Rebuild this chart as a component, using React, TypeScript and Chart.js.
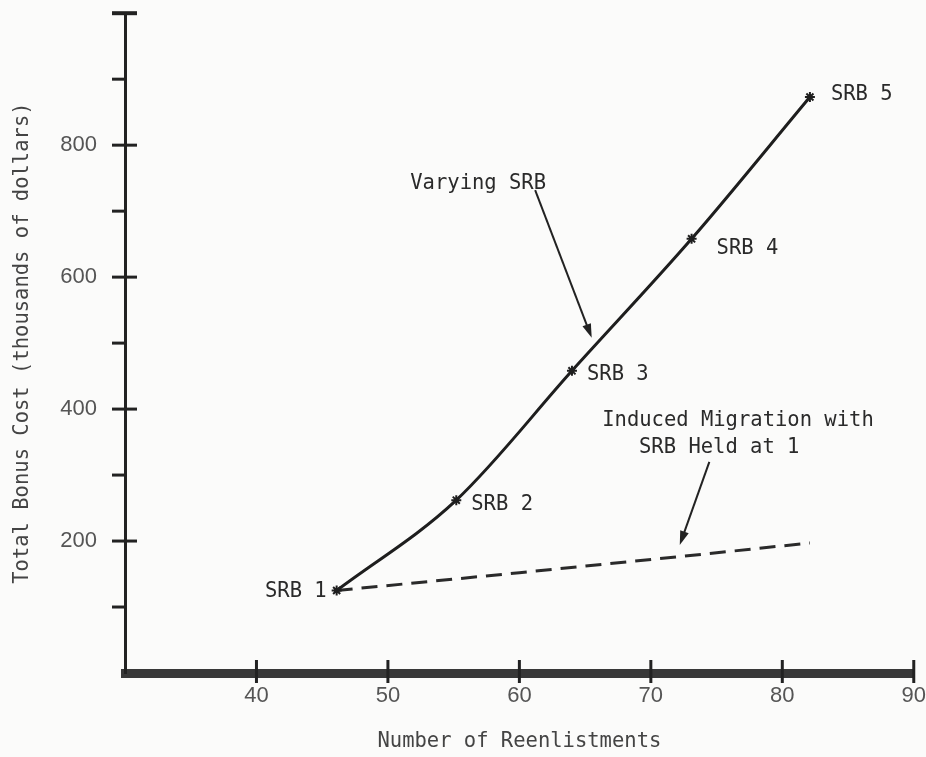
import { useEffect, useRef } from "react";
import { Chart, registerables } from "chart.js";

Chart.register(...registerables);

// ---- data ----
const reenlistments = [46.1, 55.2, 64, 73.1, 82.1];
const varyingSrbCost = [125, 262, 458, 658, 873];
const srbLabels = ["SRB 1", "SRB 2", "SRB 3", "SRB 4", "SRB 5"];

const heldReenlistments = [46.1, 60, 72, 82.1];
const heldSrbCost = [125, 152, 176, 197];

const xTickLabels = [40, 50, 60, 70, 80, 90];
const yTickLabels = [200, 400, 600, 800];

const xTitle = "Number of Reenlistments";
const yTitle = "Total Bonus Cost (thousands of dollars)";
const varyingText = "Varying SRB";
const heldText1 = "Induced Migration with";
const heldText2 = "SRB Held at 1";

// ---- annotation placement (data coords + pixel offsets) ----
const srbLabelOffsets: [number, number, CanvasTextAlign][] = [
  [-10, 1, "right"],
  [15, 5, "left"],
  [15, 4, "left"],
  [25, 10, "left"],
  [21, -2, "left"],
];
const varyingTextPos = { x: 51.7, y: 742 };
const varyingArrow = { x1: 61.2, y1: 732, x2: 65.5, y2: 508 };
const heldText1Pos = { x: 66.3, y: 383 };
const heldText2Pos = { x: 69.1, y: 342 };
const heldArrow = { x1: 74.45, y1: 320, x2: 72.2, y2: 194 };

const MONO = '"DejaVu Sans Mono", monospace';
const SANS = '"Liberation Sans", Arial, sans-serif';

function drawArrow(ctx: CanvasRenderingContext2D, x1: number, y1: number, x2: number, y2: number) {
  const ang = Math.atan2(y2 - y1, x2 - x1);
  const len = 14;
  const half = 4.5;
  ctx.beginPath();
  ctx.moveTo(x1, y1);
  ctx.lineTo(x2 - Math.cos(ang) * len * 0.8, y2 - Math.sin(ang) * len * 0.8);
  ctx.stroke();
  ctx.beginPath();
  ctx.moveTo(x2, y2);
  ctx.lineTo(
    x2 - Math.cos(ang) * len + Math.cos(ang + Math.PI / 2) * half,
    y2 - Math.sin(ang) * len + Math.sin(ang + Math.PI / 2) * half
  );
  ctx.lineTo(
    x2 - Math.cos(ang) * len - Math.cos(ang + Math.PI / 2) * half,
    y2 - Math.sin(ang) * len - Math.sin(ang + Math.PI / 2) * half
  );
  ctx.closePath();
  ctx.fill();
}

const overlayPlugin = {
  id: "overlay",
  afterDraw(chart: any) {
    const { ctx, chartArea, scales } = chart;
    const xs = scales.x;
    const ys = scales.y;
    ctx.save();
    ctx.strokeStyle = "#222";
    ctx.fillStyle = "#222";
    ctx.lineCap = "butt";

    // y-axis tick marks
    ys.ticks.forEach((t: any) => {
      const v = t.value;
      if (v <= 0) return;
      const py = ys.getPixelForValue(v);
      const major = v % 200 === 0;
      ctx.lineWidth = v === 1000 ? 4 : 3;
      ctx.beginPath();
      ctx.moveTo(chartArea.left - 13, py);
      ctx.lineTo(chartArea.left + (major ? 12 : 0), py);
      ctx.stroke();
    });
    // x-axis tick marks
    ctx.lineWidth = 3;
    xs.ticks.forEach((t: any) => {
      if (t.value <= 30) return;
      const px = xs.getPixelForValue(t.value);
      ctx.beginPath();
      ctx.moveTo(px, chartArea.bottom - 13);
      ctx.lineTo(px, chartArea.bottom + 10);
      ctx.stroke();
    });

    // texts
    ctx.fillStyle = "#2a2a2a";
    ctx.font = `20.5px ${MONO}`;
    ctx.textBaseline = "middle";
    reenlistments.forEach((r, i) => {
      const [dx, dy, align] = srbLabelOffsets[i];
      ctx.textAlign = align;
      ctx.fillText(srbLabels[i], xs.getPixelForValue(r) + dx, ys.getPixelForValue(varyingSrbCost[i]) + dy);
    });
    ctx.textAlign = "left";
    ctx.fillText(varyingText, xs.getPixelForValue(varyingTextPos.x), ys.getPixelForValue(varyingTextPos.y));
    ctx.fillText(heldText1, xs.getPixelForValue(heldText1Pos.x), ys.getPixelForValue(heldText1Pos.y));
    ctx.fillText(heldText2, xs.getPixelForValue(heldText2Pos.x), ys.getPixelForValue(heldText2Pos.y));

    // arrows
    ctx.strokeStyle = "#222";
    ctx.fillStyle = "#222";
    ctx.lineWidth = 2;
    drawArrow(
      ctx,
      xs.getPixelForValue(varyingArrow.x1),
      ys.getPixelForValue(varyingArrow.y1),
      xs.getPixelForValue(varyingArrow.x2),
      ys.getPixelForValue(varyingArrow.y2)
    );
    drawArrow(
      ctx,
      xs.getPixelForValue(heldArrow.x1),
      ys.getPixelForValue(heldArrow.y1),
      xs.getPixelForValue(heldArrow.x2),
      ys.getPixelForValue(heldArrow.y2)
    );
    ctx.restore();
  },
};

const bgPlugin = {
  id: "bg",
  beforeDraw(chart: any) {
    const { ctx, width, height } = chart;
    ctx.save();
    ctx.fillStyle = "#fbfbfa";
    ctx.fillRect(0, 0, width, height);
    ctx.restore();
  },
};

export default function App() {
  const canvasRef = useRef<HTMLCanvasElement | null>(null);

  useEffect(() => {
    if (!canvasRef.current) return;
    const chart = new Chart(canvasRef.current, {
      type: "line",
      data: {
        datasets: [
          {
            label: "Varying SRB",
            data: reenlistments.map((r, i) => ({ x: r, y: varyingSrbCost[i] })),
            borderColor: "#1e1e1e",
            borderWidth: 3,
            cubicInterpolationMode: "monotone",
            pointStyle: "star",
            pointRadius: 5,
            pointBorderWidth: 2,
            pointBorderColor: "#1e1e1e",
            pointBackgroundColor: "#1e1e1e",
            fill: false,
          },
          {
            label: "Induced Migration with SRB Held at 1",
            data: heldReenlistments.map((r, i) => ({ x: r, y: heldSrbCost[i] })),
            borderColor: "#2a2a2a",
            borderWidth: 3,
            borderDash: [16, 9],
            pointRadius: 0,
            tension: 0,
            fill: false,
          },
        ],
      },
      options: {
        animation: false,
        responsive: true,
        maintainAspectRatio: false,
        layout: { padding: { top: 13, right: 11, left: 0, bottom: 0 } },
        plugins: {
          legend: { display: false },
          tooltip: { enabled: false },
        },
        scales: {
          x: {
            type: "linear",
            min: 30,
            max: 90,
            afterBuildTicks: (scale: any) => {
              scale.ticks = [30, ...xTickLabels].map((v) => ({ value: v }));
            },
            ticks: {
              autoSkip: false,
              maxRotation: 0,
              padding: 0,
              color: "#555",
              font: { family: SANS, size: 22 },
              callback: (v: any) => (xTickLabels.includes(Number(v)) ? String(v) : ""),
            },
            grid: { display: false, drawTicks: true, tickLength: 10 },
            border: { display: true, width: 9, color: "#383838" },
            title: {
              display: true,
              text: xTitle,
              color: "#444",
              font: { family: MONO, size: 20.5 },
              padding: { top: 0, bottom: 3 },
            },
            afterFit: (scale: any) => {
              scale.height = 84;
            },
          },
          y: {
            type: "linear",
            min: 0,
            max: 1000,
            ticks: {
              stepSize: 100,
              autoSkip: false,
              padding: 0,
              color: "#555",
              font: { family: SANS, size: 22 },
              callback: (v: any) => (yTickLabels.includes(Number(v)) ? String(v) : ""),
            },
            grid: { display: false, drawTicks: true, tickLength: 28 },
            border: { display: true, width: 3, color: "#222" },
            title: {
              display: true,
              text: yTitle,
              color: "#444",
              font: { family: MONO, size: 20.5 },
              padding: { top: 10, bottom: 0 },
            },
            afterFit: (scale: any) => {
              scale.width = 125;
            },
          },
        },
      },
      plugins: [bgPlugin, overlayPlugin],
    });
    return () => chart.destroy();
  }, []);

  return (
    <div style={{ position: "absolute", left: 0, top: 0, width: 926, height: 757 }}>
      <canvas ref={canvasRef} />
    </div>
  );
}
